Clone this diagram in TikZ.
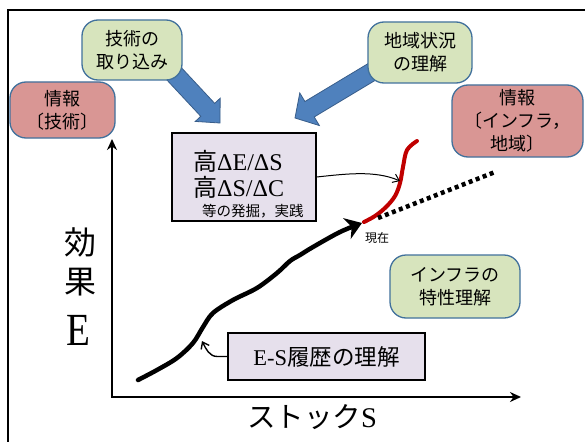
\documentclass[tikz,border=0pt]{standalone}
\usepackage{fontspec}
\setmainfont{Liberation Serif}
\newfontfamily\jp{Noto Sans CJK JP}
\usetikzlibrary{arrows.meta,calc}
\definecolor{boxgreen}{HTML}{D7E4BD}
\definecolor{boxred}{HTML}{D99694}
\definecolor{boxedge}{HTML}{41719C}
\definecolor{arrowblue}{HTML}{4F81BD}
\definecolor{arrowedge}{HTML}{385D8A}
\definecolor{lav}{HTML}{E6E0EC}
\definecolor{curvered}{HTML}{C00000}
\begin{document}
\begin{tikzpicture}[x=1pt,y=-1pt,
  bubble/.style={draw=boxedge, line width=1.3pt, rounded corners=16pt, align=center, inner sep=0pt, font=\jp\fontsize{18}{23}\selectfont},
  greenbub/.style={bubble, fill=boxgreen},
  redbub/.style={bubble, fill=boxred},
  labbox/.style={draw=black, line width=1.3pt, fill=lav, inner sep=0pt},
  blockarrow/.style={fill=arrowblue, draw=arrowedge, line width=0.8pt},
  thinarrow/.style={draw=black, line width=1pt, -{Straight Barb[length=6pt,width=9pt]}},
  axisline/.style={line width=2.2pt, {Stealth[length=11pt,width=10pt]}-{Stealth[length=11pt,width=10pt]}}]
\useasboundingbox (0,0) rectangle (585,441);
\fill[white] (0,0) rectangle (585,441);
% frame
\draw[line width=2.2pt] (8,450) -- (8,10) -- (595,10);
% block arrows
\begin{scope}[shift={(220,123)}, rotate=-47]
\draw[blockarrow] (0,0) -- (-18,17) -- (-18,9.5) -- (-75,9.5) -- (-75,-9.5) -- (-18,-9.5) -- (-18,-17) -- cycle;
\end{scope}
\begin{scope}[shift={(295,118)}, rotate=211]
\draw[blockarrow] (0,0) -- (-17,19) -- (-17,9) -- (-97,9) -- (-97,-9) -- (-17,-9) -- (-17,-19) -- cycle;
\end{scope}
% bubbles
\node[greenbub, minimum width=100pt, minimum height=60pt] (tech) at (132,50) {技術の\\取り込み};
\node[redbub, minimum width=105pt, minimum height=56pt] (infotech) at (62.5,110) {情報\\〔技術〕};
\node[greenbub, minimum width=104pt, minimum height=61pt] (region) at (420,52.5) {地域状況\\の理解};
\node[redbub, minimum width=131pt, minimum height=72pt] (inforeg) at (517.5,121) {情報\\〔インフラ，\\地域〕};
\node[greenbub, minimum width=130pt, minimum height=63pt] (infra) at (455,286.5) {インフラの\\特性理解};
% main box
\node[labbox, minimum width=144pt, minimum height=88pt] (m) at (244,177) {};
\node[anchor=base west, inner sep=0pt, font=\fontsize{24}{24}\selectfont] (l1) at (193,170) {{\jp 高}ΔE/ΔS};
\node[anchor=base west, inner sep=0pt, font=\fontsize{24}{24}\selectfont] (l2) at (193,196) {{\jp 高}ΔS/ΔC};
\node[anchor=base west, inner sep=0pt, font=\jp\fontsize{14.5}{15}\selectfont] (l3) at (202,216) {等の発掘，実践};
% E-S box
\node[labbox, minimum width=197pt, minimum height=47pt, font=\fontsize{22.5}{22}\selectfont] (es) at (326.5,356.5) {E-S{\jp 履歴の理解}};
% axes
\coordinate (ytip) at (112,139);
\coordinate (xtip) at (521,397);
\draw[axisline] (ytip) |- (xtip);
% axis labels
\node[font=\jp\fontsize{32}{32}\selectfont, inner sep=0pt] (ka) at (80,242) {効};
\node[font=\jp\fontsize{32}{32}\selectfont, inner sep=0pt] (kb) at (80,282) {果};
\node[font=\fontsize{46}{46}\selectfont, inner sep=0pt, xscale=0.85] (kE) at (78,330) {E};
\node[font=\fontsize{28.5}{28}\selectfont, inner sep=0pt] (st) at (312,417) {{\jp ストック}S};
% history curve
\draw[line width=4.5pt, line cap=round, -{Stealth[length=16pt,width=22pt,inset=5pt]}] plot[smooth, tension=0.55] coordinates {(138,380) (157,370) (177,358) (193,343) (203,327) (213,313) (233,300) (257,288) (277,273) (290,261) (300,255) (313,247) (340,232) (362,223)};
\coordinate (now) at (364,222);
% red future curve
\draw[curvered, line width=4pt, line cap=round] plot[smooth, tension=0.6] coordinates {(now) (375,216) (386,207) (395,196) (400,183) (403,167) (407,150) (417,141)};
% dotted trend
\coordinate (dotA) at (378,218);
\coordinate (dotB) at (495,172);
\draw[line width=4.5pt, dash pattern=on 4pt off 3.5pt] (dotA) -- (dotB);
\node[font=\jp\fontsize{12}{12}\selectfont, inner sep=0pt] (nowlab) at (377,238) {現在};
% thin arrows
\coordinate (hit) at (400,181);
\draw[thinarrow] (m.east) .. controls (345,174) and (375,170) .. (hit);
\coordinate (histpt) at (202,341);
\draw[thinarrow, line width=1.4pt] (es.west) -- ++(-10,0) .. controls +(-8,0) and +(4,8) .. (histpt);
\end{tikzpicture}
\end{document}
